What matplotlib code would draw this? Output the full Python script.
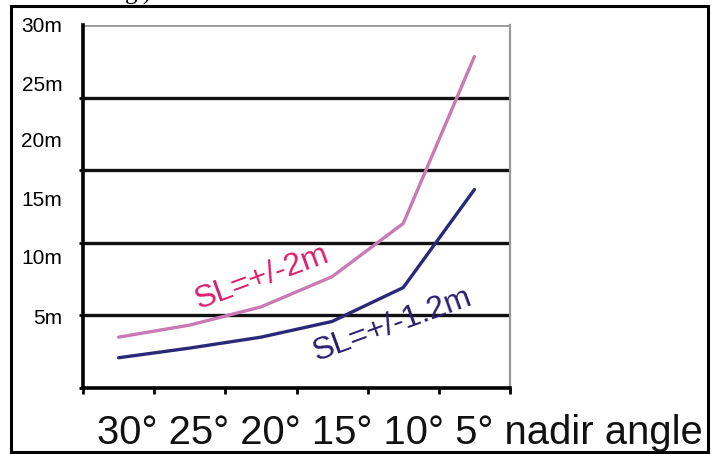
import matplotlib.pyplot as plt
from matplotlib.patches import Rectangle

plt.rcParams['font.family'] = ['Liberation Sans', 'DejaVu Sans']

# nadir angle categories (read left to right)
angles = ['30°', '25°', '20°', '15°', '10°', '5°']
# horizontal error in metres
sl_2m = [4.2, 5.2, 6.7, 9.2, 13.6, 27.4]
sl_12m = [2.5, 3.3, 4.2, 5.5, 8.3, 16.4]
ytick_labels = ['5m', '10m', '15m', '20m', '25m', '30m']

fig = plt.figure(figsize=(7.19, 4.54), dpi=100)
ax = fig.add_axes([83/719, 1 - 388/454, (510 - 83)/719, (388 - 25)/454])

xs = [i + 0.5 for i in range(len(angles))]
ax.plot(xs, sl_2m, color='#c97ab4', lw=2.4, solid_capstyle='round')
ax.plot(xs, sl_12m, color='#2a2878', lw=2.4, solid_capstyle='round')

ax.set_xlim(0, len(angles))
ax.set_ylim(0, 30)

# gridlines (black, thick) and grey top line
for g in [6, 12, 18, 24]:
    ax.axhline(g, color='#111111', lw=2.4, zorder=0)
ax.axhline(30, color='#999999', lw=2.0, zorder=0)

ax.spines['top'].set_visible(False)
ax.spines['right'].set_color('#999999')
ax.spines['right'].set_linewidth(1.6)
ax.spines['left'].set_linewidth(2.6)
ax.spines['bottom'].set_linewidth(2.6)

ax.set_xticks(range(len(angles) + 1))
ax.set_xticklabels([])
ax.tick_params(axis='x', direction='out', length=4, width=2)

ax.set_yticks([5.9, 10.9, 15.7, 20.5, 25.2, 30])
ax.set_yticklabels(ytick_labels, fontsize=15)
ax.tick_params(axis='y', length=0, pad=15)
ax.set_yticks([0, 6, 12, 18, 24, 30], minor=True)
ax.tick_params(axis='y', which='minor', length=3, width=2)

ax.text(2.51, 9.1, 'SL=+/-2m', color='#dc1e6e', fontsize=23,
        rotation=20, ha='center', va='center')
ax.text(4.35, 5.2, 'SL=+/-1.2m', color='#2a2070', fontsize=23,
        rotation=20, ha='center', va='center')

fig.text(97/719, 1 - 444/454, ' '.join(angles + ['nadir angle']),
         fontsize=28.8, ha='left', va='baseline', color='#111111')

# caption fragment cut by the top edge, as in the source
fig.text(125/719, 1.0, 'g.)', fontsize=18, family='Liberation Serif',
         ha='left', va='baseline')

fig.patches.append(Rectangle((11/719, 1 - 452/454), (708 - 11)/719, (452 - 6)/454,
                             transform=fig.transFigure, fill=False,
                             edgecolor='black', lw=2.2))

fig.savefig('out.png', dpi=100)
